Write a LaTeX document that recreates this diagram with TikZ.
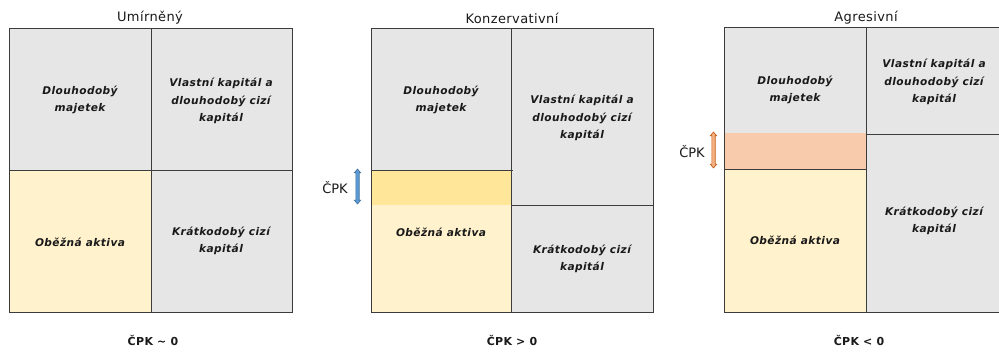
\documentclass[tikz,border=0pt]{standalone}
\usepackage{fontspec}
\setmainfont{DejaVu Sans}
\newfontfamily\cellfont{DejaVu Sans}[LetterSpace=4]
\newfontfamily\headfont{DejaVu Sans}[LetterSpace=3]
\definecolor{cellgray}{HTML}{E6E6E6}
\definecolor{cellyellow}{HTML}{FFF2CC}
\definecolor{bandyellow}{HTML}{FFE699}
\definecolor{bandorange}{HTML}{F8CBAD}
\definecolor{rule}{HTML}{3C3C3C}
\definecolor{arrblue}{HTML}{5B9BD5}
\definecolor{arrblueedge}{HTML}{41719C}
\definecolor{arrorange}{HTML}{F4B183}
\definecolor{arrorangeedge}{HTML}{C55A11}
\tikzset{
  ln/.style={draw=rule, line width=0.8pt},
  celltext/.style={font=\cellfont\bfseries\itshape\fontsize{10.6}{17.5}\selectfont, align=center, text=black!90},
  title/.style={font=\headfont\fontsize{13}{14}\selectfont, text=black!90},
  result/.style={font=\headfont\bfseries\fontsize{11}{12}\selectfont, text=black!90},
  sidelabel/.style={font=\fontsize{13}{14}\selectfont, text=black!90},
}
% vertical block double arrow centred at x=#1 from y=#2 to y=#3
\newcommand{\vdblarrow}[4]{%
  \filldraw[#4, line width=0.6pt]
    (#1-1.7,#2+3.8) -- (#1-3.2,#2+3.8) -- (#1,#2) -- (#1+3.2,#2+3.8) -- (#1+1.7,#2+3.8)
    -- (#1+1.7,#3-3.8) -- (#1+3.2,#3-3.8) -- (#1,#3) -- (#1-3.2,#3-3.8) -- (#1-1.7,#3-3.8) -- cycle;}
\begin{document}
\begin{tikzpicture}[x=1pt,y=-1pt]
\useasboundingbox (0,0) rectangle (999,352);

% ---- Umirneny ----
\fill[cellgray] (9,28) rectangle (292,312);
\fill[cellyellow] (9,170) rectangle (151,312);
\draw[ln] (9,28) rectangle (292,312);
\draw[ln] (151,28) -- (151,312);
\draw[ln] (9,170) -- (293,170);
\node[title] (t1) at (150,18) {Umírněný};
\node[celltext] (a1) at (80,100) {Dlouhodobý\\majetek};
\node[celltext] (b1) at (221,101) {Vlastní kapitál a\\dlouhodobý cizí\\kapitál};
\node[celltext] (c1) at (80,242) {Oběžná aktiva};
\node[celltext] (d1) at (221,241) {Krátkodobý cizí\\kapitál};
\node[result] (r1) at (153,340) {ČPK \textasciitilde{} 0};

% ---- Konzervativni ----
\fill[cellgray] (371,28) rectangle (653,312);
\fill[cellyellow] (371,170) rectangle (511,312);
\fill[bandyellow] (371,170) rectangle (511,205);
\draw[ln] (371,28) rectangle (653,312);
\draw[ln] (511,28) -- (511,312);
\draw[ln] (371,170) -- (513,170);
\draw[ln] (511,205) -- (653,205);
\node[title] (t2) at (512,18) {Konzervativní};
\node[celltext] (a2) at (441,100) {Dlouhodobý\\majetek};
\node[celltext] (b2) at (582,118) {Vlastní kapitál a\\dlouhodobý cizí\\kapitál};
\node[celltext] (c2) at (441,232) {Oběžná aktiva};
\node[celltext] (d2) at (582,259) {Krátkodobý cizí\\kapitál};
\node[sidelabel] (s2) at (335,188) {ČPK};
\vdblarrow{357.5}{169}{204}{fill=arrblue, draw=arrblueedge}
\node[result] (r2) at (512,340) {ČPK > 0};

% ---- Agresivni ----
\fill[cellgray] (724,27) rectangle (1001,312);
\fill[cellyellow] (724,169) rectangle (866,312);
\fill[bandorange] (724,133) rectangle (866,169);
\draw[ln] (724,27) rectangle (1001,312);
\draw[ln] (866,27) -- (866,312);
\draw[ln] (724,169) -- (866,169);
\draw[ln] (866,134) -- (1001,134);
\node[title] (t3) at (866,18) {Agresivní};
\node[celltext] (a3) at (795,90) {Dlouhodobý\\majetek};
\node[celltext] (b3) at (934,82) {Vlastní kapitál a\\dlouhodobý cizí\\kapitál};
\node[celltext] (c3) at (795,240) {Oběžná aktiva};
\node[celltext] (d3) at (934,221) {Krátkodobý cizí\\kapitál};
\node[sidelabel] (s3) at (692,152) {ČPK};
\vdblarrow{713.5}{132}{168}{fill=arrorange, draw=arrorangeedge}
\node[result] (r3) at (859,340) {ČPK < 0};
\end{tikzpicture}
\end{document}
